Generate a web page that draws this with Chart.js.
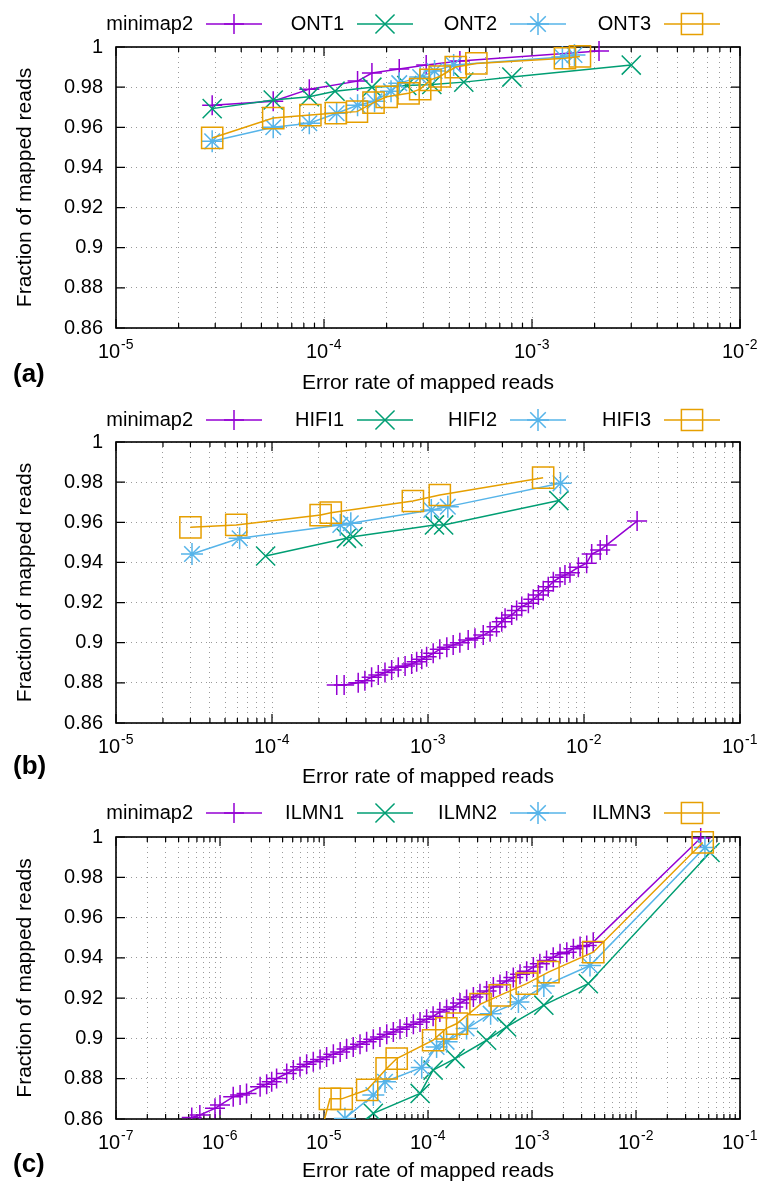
<!DOCTYPE html>
<html>
<head>
<meta charset="utf-8">
<script src="https://cdn.jsdelivr.net/npm/chart.js@4.4.0/dist/chart.umd.min.js"></script>
<style>
    body { margin: 0; background: #fff; }
    canvas { display: block; }
</style>
</head>
<body>
<canvas id="chartA" width="758" height="396"></canvas>
<canvas id="chartB" width="758" height="394"></canvas>
<canvas id="chartC" width="758" height="394"></canvas>
<script>
// ---- (a) ONT ----
const ontLabels = ['minimap2', 'ONT1', 'ONT2', 'ONT3'];
const ontDecades = [-5, -2];
const ontMinimap2X = [2.9e-5, 5.7e-5, 8.5e-5, 1.45e-4, 1.7e-4, 2.3e-4, 3.1e-4, 4.5e-4, 2.1e-3];
const ontMinimap2Y = [0.971, 0.973, 0.979, 0.983, 0.987, 0.989, 0.991, 0.993, 0.998];
const ont1X = [2.9e-5, 5.7e-5, 8.5e-5, 1.13e-4, 1.7e-4, 2.5e-4, 3.3e-4, 4.7e-4, 8.0e-4, 3.0e-3];
const ont1Y = [0.9693, 0.9736, 0.9752, 0.978, 0.980, 0.9808, 0.9813, 0.9825, 0.985, 0.991];
const ont2X = [2.9e-5, 5.7e-5, 8.5e-5, 1.15e-4, 1.45e-4, 1.75e-4, 2.1e-4, 2.3e-4, 2.9e-4, 3.4e-4, 4.2e-4, 1.4e-3, 1.6e-3];
const ont2Y = [0.953, 0.960, 0.962, 0.967, 0.971, 0.973, 0.978, 0.982, 0.985, 0.988, 0.991, 0.995, 0.996];
const ont3X = [2.9e-5, 5.7e-5, 8.6e-5, 1.14e-4, 1.44e-4, 1.73e-4, 2.0e-4, 2.55e-4, 2.9e-4, 3.25e-4, 3.6e-4, 4.3e-4, 5.4e-4, 1.44e-3, 1.7e-3];
const ont3Y = [0.9547, 0.9646, 0.9661, 0.9671, 0.9678, 0.9723, 0.9752, 0.9769, 0.979, 0.9836, 0.9853, 0.990, 0.9918, 0.9944, 0.9953];

// ---- (b) HiFi ----
const hifiLabels = ['minimap2', 'HIFI1', 'HIFI2', 'HIFI3'];
const hifiDecades = [-5, -1];
const hifiMinimap2X = [2.60e-4, 2.90e-4, 3.57e-4, 3.94e-4, 4.35e-4, 4.80e-4, 5.30e-4, 5.85e-4, 6.45e-4, 7.13e-4,
    7.86e-4, 8.46e-4, 9.12e-4, 9.8e-4, 1.08e-3, 1.19e-3, 1.32e-3, 1.45e-3, 1.60e-3, 1.81e-3,
    2.0e-3, 2.26e-3, 2.5e-3, 2.75e-3, 2.97e-3, 3.12e-3, 3.44e-3, 3.7e-3, 3.99e-3, 4.40e-3,
    4.73e-3, 5.1e-3, 5.48e-3, 5.9e-3, 6.36e-3, 7.02e-3, 7.55e-3, 8.13e-3, 9.2e-3, 1.04e-2,
    1.12e-2, 1.27e-2, 1.40e-2, 2.19e-2];
const hifiMinimap2Y = [0.8789, 0.8789, 0.8801, 0.8811, 0.8828, 0.8839, 0.8851, 0.8864, 0.8878, 0.8884,
    0.8894, 0.8905, 0.8917, 0.8930, 0.8947, 0.8967, 0.8977, 0.8989, 0.9000, 0.9014,
    0.9022, 0.9038, 0.9055, 0.9080, 0.9105, 0.9122, 0.9138, 0.9160, 0.9180, 0.9196,
    0.9216, 0.9238, 0.9259, 0.9279, 0.9304, 0.9326, 0.9337, 0.9349, 0.9376, 0.9396,
    0.9442, 0.9462, 0.9487, 0.9606];
const hifi1X = [9.1e-5, 3.0e-4, 3.3e-4, 1.10e-3, 1.26e-3, 6.9e-3];
const hifi1Y = [0.9432, 0.952, 0.9528, 0.9587, 0.9587, 0.9708];
const hifi2X = [3.07e-5, 6.2e-5, 2.74e-4, 3.2e-4, 1.05e-3, 1.34e-3, 7.07e-3];
const hifi2Y = [0.9442, 0.952, 0.9587, 0.9595, 0.9661, 0.9678, 0.9794];
const hifi3X = [3.0e-5, 5.9e-5, 2.05e-4, 2.38e-4, 8.0e-4, 1.19e-3, 5.47e-3];
const hifi3Y = [0.9575, 0.9587, 0.9636, 0.9648, 0.9706, 0.9736, 0.9822];

// ---- (c) Illumina ----
const ilmnLabels = ['minimap2', 'ILMN1', 'ILMN2', 'ILMN3'];
const ilmnDecades = [-7, -1];
const ilmnMinimap2X = [5.35e-7, 6.4e-7, 8.95e-7, 1.0e-6, 1.34e-6, 1.56e-6, 1.8e-6, 2.43e-6, 2.81e-6, 3.14e-6,
    3.5e-6, 4.38e-6, 5.07e-6, 5.88e-6, 6.81e-6, 7.89e-6, 9.16e-6, 1.06e-5, 1.23e-5, 1.43e-5,
    1.65e-5, 1.91e-5, 2.22e-5, 2.57e-5, 2.98e-5, 3.45e-5, 4.01e-5, 4.64e-5, 5.38e-5, 6.24e-5,
    7.23e-5, 8.38e-5, 9.7e-5, 1.12e-4, 1.30e-4, 1.51e-4, 1.75e-4, 2.03e-4, 2.35e-4, 2.73e-4,
    3.16e-4, 3.66e-4, 4.25e-4, 4.92e-4, 5.7e-4, 6.61e-4, 7.67e-4, 8.89e-4, 1.03e-3, 1.19e-3,
    1.38e-3, 1.60e-3, 1.86e-3, 2.16e-3, 2.50e-3, 2.90e-3, 3.36e-3, 3.88e-3, 4.19e-2];
const ilmnMinimap2Y = [0.8608, 0.862, 0.8653, 0.8669, 0.871, 0.8719, 0.8727, 0.876, 0.8773, 0.8785,
    0.8801, 0.8826, 0.8843, 0.8859, 0.8872, 0.8884, 0.8896, 0.8908, 0.8922, 0.8933,
    0.8947, 0.8958, 0.8971, 0.8983, 0.8996, 0.9007, 0.9021, 0.9032, 0.9046, 0.9057,
    0.907, 0.9082, 0.9095, 0.911, 0.9131, 0.9143, 0.9156, 0.9176, 0.9193, 0.9206,
    0.9222, 0.9235, 0.9255, 0.9268, 0.9285, 0.9302, 0.9318, 0.9334, 0.9354, 0.9371,
    0.9387, 0.9403, 0.942, 0.9428, 0.9445, 0.9456, 0.9461, 0.9478, 0.9995];
const ilmn1X = [1.6e-5, 2.98e-5, 8.4e-5, 1.12e-4, 1.82e-4, 3.66e-4, 5.7e-4, 1.3e-3, 3.48e-3, 5.15e-2];
const ilmn1Y = [0.852, 0.8628, 0.8727, 0.8843, 0.890, 0.8991, 0.9057, 0.9165, 0.9272, 0.9923];
const ilmn2X = [1.59e-5, 2.98e-5, 3.86e-5, 8.7e-5, 1.21e-4, 1.51e-4, 2.35e-4, 4.0e-4, 7.4e-4, 1.3e-3, 3.61e-3, 4.6e-2];
const ilmn2Y = [0.8603, 0.8719, 0.8785, 0.8856, 0.8958, 0.8983, 0.9049, 0.9123, 0.9181, 0.926, 0.9362, 0.9948];
const ilmn3X = [9.0e-6, 1.14e-5, 1.48e-5, 2.6e-5, 4.0e-5, 5.0e-5, 1.12e-4, 1.5e-4, 1.9e-4, 3.2e-4, 4.9e-4, 8.9e-4, 1.44e-3, 3.88e-3, 4.38e-2];
const ilmn3Y = [0.85, 0.870, 0.870, 0.8745, 0.8851, 0.890, 0.8991, 0.905, 0.9074, 0.917, 0.9214, 0.9272, 0.9329, 0.9428, 0.9973];

const yMin = 0.86, yMax = 1, yStep = 0.02;
const xTitle = 'Error rate of mapped reads';
const yTitle = 'Fraction of mapped reads';

const FONT = '"Liberation Sans", Arial, Helvetica, sans-serif';
// gnuplot default colours / point types 1..4
const styles = [
    { color: '#9400d3', pointStyle: 'cross', radius: 10 },
    { color: '#009e73', pointStyle: 'crossRot', radius: 13.5 },
    { color: '#56b4e9', pointStyle: 'star', radius: 11 },
    { color: '#e69f00', pointStyle: 'rect', radius: 15 }
];
const keyTextRight = [193, 344, 497, 651];
const BASE_SHIFT = -7; // "10" sits left of the tick so "10^n" is centred

function isDecade(v) {
    const l = Math.log10(v);
    return Math.abs(l - Math.round(l)) < 1e-6;
}

function decadeTicks(lo, hi) {
    const vals = [];
    for (let e = lo; e < hi; e++) {
        for (let m = 1; m <= 9; m++) vals.push(Number((m * Math.pow(10, e)).toPrecision(6)));
    }
    vals.push(Math.pow(10, hi));
    return vals;
}

function drawMarker(ctx, style, r, x, y) {
    const d = r * Math.SQRT1_2;
    ctx.beginPath();
    if (style === 'cross' || style === 'star') {
        ctx.moveTo(x, y - r); ctx.lineTo(x, y + r);
        ctx.moveTo(x - r, y); ctx.lineTo(x + r, y);
    }
    if (style === 'crossRot' || style === 'star') {
        ctx.moveTo(x - d, y - d); ctx.lineTo(x + d, y + d);
        ctx.moveTo(x - d, y + d); ctx.lineTo(x + d, y - d);
    }
    if (style === 'rect') ctx.rect(x - d, y - d, 2 * d, 2 * d);
    ctx.stroke();
}

// border, inward ticks, exponents, key and panel letter in gnuplot style
const gnuplotLook = {
    id: 'gnuplotLook',
    beforeDatasetsDraw(chart) {
        const { ctx, chartArea: a, scales: { x, y } } = chart;
        ctx.save();
        ctx.strokeStyle = '#000';
        ctx.lineWidth = 1.2;
        ctx.beginPath();
        x.ticks.forEach(t => {
            const px = x.getPixelForValue(t.value);
            const len = isDecade(t.value) ? 9 : 5;
            ctx.moveTo(px, a.bottom); ctx.lineTo(px, a.bottom - len);
            ctx.moveTo(px, a.top); ctx.lineTo(px, a.top + len);
        });
        y.ticks.forEach(t => {
            const py = y.getPixelForValue(t.value);
            ctx.moveTo(a.left, py); ctx.lineTo(a.left + 9, py);
            ctx.moveTo(a.right, py); ctx.lineTo(a.right - 9, py);
        });
        ctx.stroke();
        ctx.lineWidth = 1.6;
        ctx.strokeRect(a.left, a.top, a.right - a.left, a.bottom - a.top);
        ctx.restore();
    },
    afterDraw(chart, args, opts) {
        const { ctx, chartArea: a, scales: { x } } = chart;
        ctx.save();
        // exponents of the x tick labels
        ctx.font = '20px ' + FONT;
        const baseHalf = ctx.measureText('10').width / 2;
        ctx.font = '14px ' + FONT;
        ctx.fillStyle = '#000';
        ctx.textAlign = 'left';
        ctx.textBaseline = 'middle';
        x.ticks.forEach(t => {
            if (!isDecade(t.value)) return;
            const px = x.getPixelForValue(t.value) + BASE_SHIFT + baseHalf + 1;
            ctx.fillText(String(Math.round(Math.log10(t.value))), px, a.bottom + 17);
        });
        chart.data.datasets.forEach((ds, i) => {
            const tx = keyTextRight[i];
            ctx.font = '20px ' + FONT;
            ctx.fillStyle = '#000';
            ctx.textAlign = 'right';
            ctx.textBaseline = 'middle';
            ctx.fillText(ds.label, tx, opts.keyY);
            ctx.strokeStyle = ds.borderColor;
            ctx.lineWidth = 1.5;
            ctx.beginPath();
            ctx.moveTo(tx + 13, opts.keyY);
            ctx.lineTo(tx + 69, opts.keyY);
            ctx.stroke();
            drawMarker(ctx, ds.pointStyle, ds.pointRadius, tx + 41, opts.keyY);
        });
        ctx.font = 'bold 26px ' + FONT;
        ctx.fillStyle = '#000';
        ctx.textAlign = 'left';
        ctx.textBaseline = 'middle';
        ctx.fillText(opts.letter, 13, opts.letterY);
        ctx.restore();
    }
};

function makePanel(id, labels, xs, ys, decades, box) {
    const canvas = document.getElementById(id);
    const tickVals = decadeTicks(decades[0], decades[1]);
    const datasets = labels.map((label, i) => ({
        label: label,
        data: xs[i].map((x, j) => ({ x: x, y: ys[i][j] })),
        showLine: true,
        borderColor: styles[i].color,
        backgroundColor: 'rgba(0,0,0,0)',
        borderWidth: 1.5,
        pointStyle: styles[i].pointStyle,
        pointRadius: styles[i].radius,
        pointHoverRadius: styles[i].radius,
        pointBorderWidth: 1.5,
        pointBackgroundColor: 'rgba(0,0,0,0)',
        order: labels.length - i,
        clip: { left: 14, right: 14, top: 18, bottom: 0 }
    }));
    return new Chart(canvas.getContext('2d'), {
        type: 'scatter',
        data: { datasets: datasets },
        plugins: [gnuplotLook],
        options: {
            responsive: false,
            animation: false,
            devicePixelRatio: 1,
            layout: { padding: { top: box.top, right: 18, left: 0, bottom: 0 } },
            plugins: {
                legend: { display: false },
                tooltip: { enabled: false },
                gnuplotLook: { keyY: box.keyY, letter: box.letter, letterY: box.letterY }
            },
            scales: {
                x: {
                    type: 'logarithmic',
                    min: Math.pow(10, decades[0]),
                    max: Math.pow(10, decades[1]),
                    afterBuildTicks: s => { s.ticks = tickVals.map(v => ({ value: v })); },
                    afterFit: s => { s.height = canvas.height - box.bottom; s.paddingLeft = 0; s.paddingRight = 0; },
                    ticks: {
                        autoSkip: false,
                        maxRotation: 0,
                        minRotation: 0,
                        padding: 12,
                        labelOffset: BASE_SHIFT,
                        color: '#000',
                        font: { family: FONT, size: 20 },
                        callback: value => (isDecade(value) ? '10' : '')
                    },
                    grid: { color: '#9a9a9a', lineWidth: 1, drawTicks: false },
                    border: { display: false, dash: [1, 4] },
                    title: { display: true, text: xTitle, color: '#000', font: { family: FONT, size: 21 }, padding: { top: 0, bottom: 0 } }
                },
                y: {
                    min: yMin,
                    max: yMax,
                    afterFit: s => { s.width = 116; s.paddingTop = 0; s.paddingBottom = 0; },
                    ticks: {
                        stepSize: yStep,
                        padding: 13,
                        color: '#000',
                        font: { family: FONT, size: 20 },
                        callback: v => String(Number(v.toFixed(2)))
                    },
                    grid: { color: '#9a9a9a', lineWidth: 1, drawTicks: false },
                    border: { display: false, dash: [1, 4] },
                    title: { display: true, text: yTitle, color: '#000', font: { family: FONT, size: 21 }, padding: { top: 13, bottom: 0 } }
                }
            }
        }
    });
}

makePanel('chartA', ontLabels,
    [ontMinimap2X, ont1X, ont2X, ont3X], [ontMinimap2Y, ont1Y, ont2Y, ont3Y],
    ontDecades, { top: 47, bottom: 328, keyY: 24, letter: '(a)', letterY: 375 });
makePanel('chartB', hifiLabels,
    [hifiMinimap2X, hifi1X, hifi2X, hifi3X], [hifiMinimap2Y, hifi1Y, hifi2Y, hifi3Y],
    hifiDecades, { top: 46, bottom: 327, keyY: 24, letter: '(b)', letterY: 371 });
makePanel('chartC', ilmnLabels,
    [ilmnMinimap2X, ilmn1X, ilmn2X, ilmn3X], [ilmnMinimap2Y, ilmn1Y, ilmn2Y, ilmn3Y],
    ilmnDecades, { top: 47, bottom: 329, keyY: 23, letter: '(c)', letterY: 375 });
</script>
</body>
</html>
